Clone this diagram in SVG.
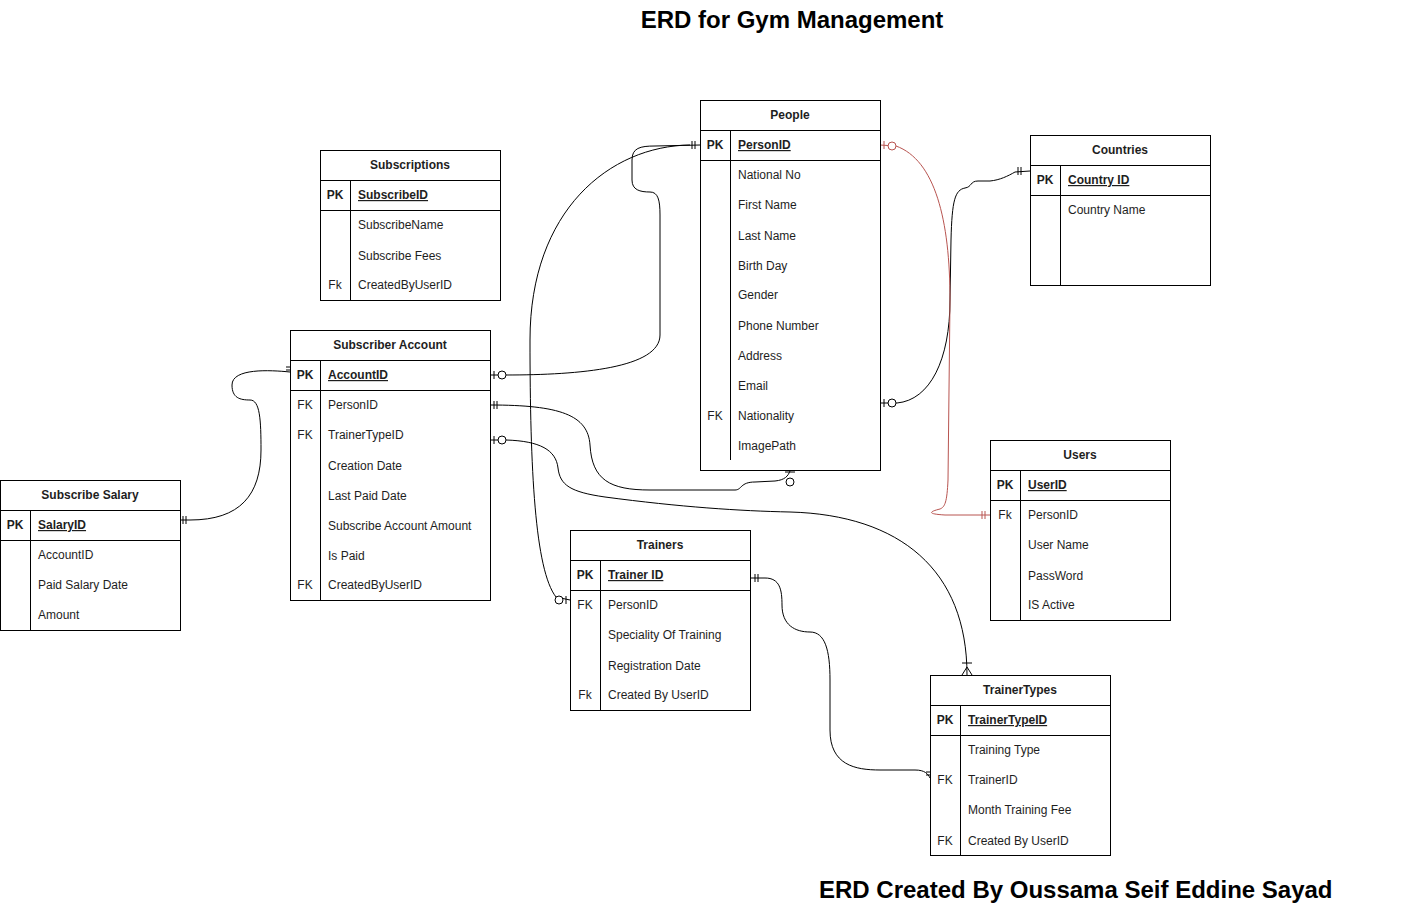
<svg xmlns="http://www.w3.org/2000/svg" width="1421" height="910" viewBox="0 0 1421 910">
<style>
.bx{fill:#fff;stroke:#000;stroke-width:1}
.ln{stroke:#000;stroke-width:1;fill:none}
.t{font-family:"Liberation Sans",Arial,Helvetica,sans-serif;font-size:12px;fill:#1e1e1e}
.h{font-weight:bold;text-anchor:middle}
.k{text-anchor:middle}
.kb{text-anchor:middle;font-weight:bold}
.pk{font-weight:bold;text-decoration:underline}
.ttl{font-family:"Liberation Sans",Arial,Helvetica,sans-serif;font-size:24px;font-weight:bold;fill:#000}
.e{fill:none;stroke:#000;stroke-width:1}
.r{fill:none;stroke:#b85450;stroke-width:1}
.c{fill:#fff;stroke:#000;stroke-width:1}
.cr{fill:#fff;stroke:#b85450;stroke-width:1}
</style>
<rect width="1421" height="910" fill="#fff"/>
<text class="ttl" x="792" y="28" text-anchor="middle">ERD for Gym Management</text>
<text class="ttl" x="819" y="898">ERD Created By Oussama Seif Eddine Sayad</text>

<g id="connectors">
  <!-- Subscriber Account PK -> People PK -->
  <path class="e" d="M 700 145 L 655 146 C 640 146 632 148 632 160 L 632 180 C 632 190 640 192 650 192 C 658 192 660 200 660 215 L 660 335 C 660 368 580 375 506 375"/>
  <line class="e" x1="692" y1="141" x2="692" y2="149"/>
  <line class="e" x1="695" y1="141" x2="695" y2="149"/>
  <line class="e" x1="490" y1="375" x2="498" y2="375"/>
  <line class="e" x1="494" y1="371" x2="494" y2="379"/>
  <circle class="c" cx="502" cy="375" r="4"/>
  <!-- Trainers FK PersonID -> People PK -->
  <path class="e" d="M 690 145 C 610 146 530 210 530 340 C 530 470 535 570 556 597 L 570 600"/>
  <circle class="c" cx="559" cy="600" r="4"/>
  <line class="e" x1="566" y1="596" x2="566" y2="604"/>
  <!-- Subscriber Account FK PersonID -> People bottom -->
  <path class="e" d="M 490 405 C 560 405 588 415 590 445 C 592 480 610 490 650 490 L 735 490 C 742 490 740 482 755 482 L 775 481 C 785 480 788 476 790 471"/>
  <line class="e" x1="494" y1="401" x2="494" y2="409"/>
  <line class="e" x1="497" y1="401" x2="497" y2="409"/>
  <line class="e" x1="785" y1="472" x2="795" y2="472"/>
  <circle class="c" cx="790" cy="482" r="4"/>
  <!-- Subscriber Account FK TrainerTypeID -> TrainerTypes -->
  <path class="e" d="M 490 440 L 506 440 C 540 441 556 450 558 468 C 560 485 570 492 605 497 C 680 507 740 511 790 512 C 900 515 967 570 967 675"/>
  <line class="e" x1="494" y1="436" x2="494" y2="444"/>
  <circle class="c" cx="502" cy="440" r="4"/>
  <line class="e" x1="962" y1="663" x2="972" y2="663"/>
  <line class="e" x1="967" y1="667" x2="962" y2="675"/>
  <line class="e" x1="967" y1="667" x2="972" y2="675"/>
  <!-- Trainers PK -> TrainerTypes FK TrainerID -->
  <path class="e" d="M 750 578 L 765 578 C 780 578 782 590 782 605 C 782 625 795 632 810 632 C 825 632 830 650 830 680 L 830 730 C 830 765 855 770 880 770 L 915 770 C 925 770 928 774 930 778"/>
  <line class="e" x1="755" y1="574" x2="755" y2="582"/>
  <line class="e" x1="758" y1="574" x2="758" y2="582"/>
  <line class="e" x1="926" y1="772" x2="934" y2="772"/>
  <line class="e" x1="926" y1="775" x2="934" y2="775"/>
  <!-- Subscriber Account PK -> Subscribe Salary PK -->
  <path class="e" d="M 290 372 C 270 370 232 368 232 385 C 232 398 240 400 250 400 C 260 400 261 420 261 450 C 261 495 240 520 190 520 L 180 520"/>
  <line class="e" x1="286" y1="367" x2="294" y2="367"/>
  <line class="e" x1="286" y1="370" x2="294" y2="370"/>
  <line class="e" x1="183" y1="516" x2="183" y2="524"/>
  <line class="e" x1="186" y1="516" x2="186" y2="524"/>
  <!-- Countries PK -> People FK Nationality -->
  <path class="e" d="M 1030 171 L 1015 172 C 1008 176 1000 180 990 181 L 978 181 C 970 181 972 187 965 188 C 955 190 952 200 951 240 L 950 300 C 950 360 930 400 897 403 L 880 403"/>
  <line class="e" x1="1018" y1="167" x2="1018" y2="175"/>
  <line class="e" x1="1021" y1="167" x2="1021" y2="175"/>
  <line class="e" x1="884" y1="399" x2="884" y2="407"/>
  <circle class="c" cx="892" cy="403" r="4"/>
  <!-- People PK -> Users FK PersonID (red) -->
  <path class="r" d="M 880 145 L 896 146 C 935 160 950 220 950 300 L 948 480 C 947 502 945 507 940 509 C 928 512 928 514 945 515 L 990 515"/>
  <line class="r" x1="884" y1="141" x2="884" y2="149"/>
  <circle class="cr" cx="892" cy="146" r="4"/>
  <line class="r" x1="982" y1="511" x2="982" y2="519"/>
  <line class="r" x1="985" y1="511" x2="985" y2="519"/>
</g>

<g id="people">
  <rect class="bx" x="700.5" y="100.5" width="180" height="370"/>
  <line class="ln" x1="700" y1="130.5" x2="881" y2="130.5"/>
  <line class="ln" x1="700" y1="160.5" x2="881" y2="160.5"/>
  <line class="ln" x1="730.5" y1="130" x2="730.5" y2="460"/>
  <text class="t h" x="790" y="119">People</text>
  <text class="t kb" x="715" y="149">PK</text>
  <text class="t pk" x="738" y="149">PersonID</text>
  <text class="t" x="738" y="179">National No</text>
  <text class="t" x="738" y="209">First Name</text>
  <text class="t" x="738" y="240">Last Name</text>
  <text class="t" x="738" y="270">Birth Day</text>
  <text class="t" x="738" y="299">Gender</text>
  <text class="t" x="738" y="330">Phone Number</text>
  <text class="t" x="738" y="360">Address</text>
  <text class="t" x="738" y="390">Email</text>
  <text class="t k" x="715" y="420">FK</text>
  <text class="t" x="738" y="420">Nationality</text>
  <text class="t" x="738" y="450">ImagePath</text>
</g>

<g id="subscriptions">
  <rect class="bx" x="320.5" y="150.5" width="180" height="150"/>
  <line class="ln" x1="320" y1="180.5" x2="501" y2="180.5"/>
  <line class="ln" x1="320" y1="210.5" x2="501" y2="210.5"/>
  <line class="ln" x1="350.5" y1="180" x2="350.5" y2="300"/>
  <text class="t h" x="410" y="169">Subscriptions</text>
  <text class="t kb" x="335" y="199">PK</text>
  <text class="t pk" x="358" y="199">SubscribeID</text>
  <text class="t" x="358" y="229">SubscribeName</text>
  <text class="t" x="358" y="260">Subscribe Fees</text>
  <text class="t k" x="335" y="289">Fk</text>
  <text class="t" x="358" y="289">CreatedByUserID</text>
</g>

<g id="subscriber-account">
  <rect class="bx" x="290.5" y="330.5" width="200" height="270"/>
  <line class="ln" x1="290" y1="360.5" x2="491" y2="360.5"/>
  <line class="ln" x1="290" y1="390.5" x2="491" y2="390.5"/>
  <line class="ln" x1="320.5" y1="360" x2="320.5" y2="600"/>
  <text class="t h" x="390" y="349">Subscriber Account</text>
  <text class="t kb" x="305" y="379">PK</text>
  <text class="t pk" x="328" y="379">AccountID</text>
  <text class="t k" x="305" y="409">FK</text>
  <text class="t" x="328" y="409">PersonID</text>
  <text class="t k" x="305" y="439">FK</text>
  <text class="t" x="328" y="439">TrainerTypeID</text>
  <text class="t" x="328" y="470">Creation Date</text>
  <text class="t" x="328" y="500">Last Paid Date</text>
  <text class="t" x="328" y="530">Subscribe Account Amount</text>
  <text class="t" x="328" y="560">Is Paid</text>
  <text class="t k" x="305" y="589">FK</text>
  <text class="t" x="328" y="589">CreatedByUserID</text>
</g>

<g id="subscribe-salary">
  <rect class="bx" x="0.5" y="480.5" width="180" height="150"/>
  <line class="ln" x1="0" y1="510.5" x2="181" y2="510.5"/>
  <line class="ln" x1="0" y1="540.5" x2="181" y2="540.5"/>
  <line class="ln" x1="30.5" y1="510" x2="30.5" y2="630"/>
  <text class="t h" x="90" y="499">Subscribe Salary</text>
  <text class="t kb" x="15" y="529">PK</text>
  <text class="t pk" x="38" y="529">SalaryID</text>
  <text class="t" x="38" y="559">AccountID</text>
  <text class="t" x="38" y="589">Paid Salary Date</text>
  <text class="t" x="38" y="619">Amount</text>
</g>

<g id="trainers">
  <rect class="bx" x="570.5" y="530.5" width="180" height="180"/>
  <line class="ln" x1="570" y1="560.5" x2="751" y2="560.5"/>
  <line class="ln" x1="570" y1="590.5" x2="751" y2="590.5"/>
  <line class="ln" x1="600.5" y1="560" x2="600.5" y2="710"/>
  <text class="t h" x="660" y="549">Trainers</text>
  <text class="t kb" x="585" y="579">PK</text>
  <text class="t pk" x="608" y="579">Trainer ID</text>
  <text class="t k" x="585" y="609">FK</text>
  <text class="t" x="608" y="609">PersonID</text>
  <text class="t" x="608" y="639">Speciality Of Training</text>
  <text class="t" x="608" y="670">Registration Date</text>
  <text class="t k" x="585" y="699">Fk</text>
  <text class="t" x="608" y="699">Created By UserID</text>
</g>

<g id="countries">
  <rect class="bx" x="1030.5" y="135.5" width="180" height="150"/>
  <line class="ln" x1="1030" y1="165.5" x2="1211" y2="165.5"/>
  <line class="ln" x1="1030" y1="195.5" x2="1211" y2="195.5"/>
  <line class="ln" x1="1060.5" y1="165" x2="1060.5" y2="285"/>
  <text class="t h" x="1120" y="154">Countries</text>
  <text class="t kb" x="1045" y="184">PK</text>
  <text class="t pk" x="1068" y="184">Country ID</text>
  <text class="t" x="1068" y="214">Country Name</text>
</g>

<g id="users">
  <rect class="bx" x="990.5" y="440.5" width="180" height="180"/>
  <line class="ln" x1="990" y1="470.5" x2="1171" y2="470.5"/>
  <line class="ln" x1="990" y1="500.5" x2="1171" y2="500.5"/>
  <line class="ln" x1="1020.5" y1="470" x2="1020.5" y2="620"/>
  <text class="t h" x="1080" y="459">Users</text>
  <text class="t kb" x="1005" y="489">PK</text>
  <text class="t pk" x="1028" y="489">UserID</text>
  <text class="t k" x="1005" y="519">Fk</text>
  <text class="t" x="1028" y="519">PersonID</text>
  <text class="t" x="1028" y="549">User Name</text>
  <text class="t" x="1028" y="580">PassWord</text>
  <text class="t" x="1028" y="609">IS Active</text>
</g>

<g id="trainer-types">
  <rect class="bx" x="930.5" y="675.5" width="180" height="180"/>
  <line class="ln" x1="930" y1="705.5" x2="1111" y2="705.5"/>
  <line class="ln" x1="930" y1="735.5" x2="1111" y2="735.5"/>
  <line class="ln" x1="960.5" y1="705" x2="960.5" y2="855"/>
  <text class="t h" x="1020" y="694">TrainerTypes</text>
  <text class="t kb" x="945" y="724">PK</text>
  <text class="t pk" x="968" y="724">TrainerTypeID</text>
  <text class="t" x="968" y="754">Training Type</text>
  <text class="t k" x="945" y="784">FK</text>
  <text class="t" x="968" y="784">TrainerID</text>
  <text class="t" x="968" y="814">Month Training Fee</text>
  <text class="t k" x="945" y="845">FK</text>
  <text class="t" x="968" y="845">Created By UserID</text>
</g>
</svg>
